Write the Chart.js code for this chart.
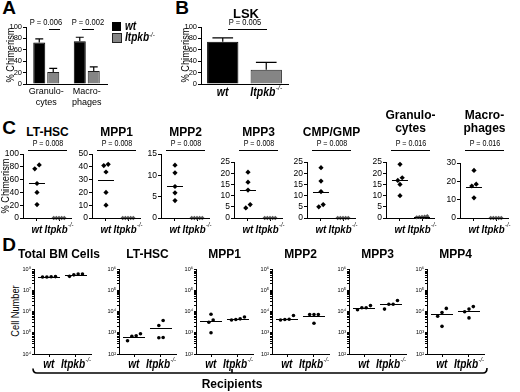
<!DOCTYPE html>
<html>
<head>
<meta charset="utf-8">
<script src="https://cdn.jsdelivr.net/npm/chart.js@4.4.1/dist/chart.umd.min.js"></script>
<style>
  body { margin: 0; background: #fff; }
  #fig { position: relative; width: 520px; height: 392px; overflow: hidden; font-family: 'Liberation Sans', Arial, sans-serif; color: #000; }
  #fig canvas { position: absolute; }
  .t { position: absolute; white-space: nowrap; line-height: 1.1; text-align: center; transform: translate(-50%, -50%); }
  .t sup { font-size: 60%; position: relative; top: -0.45em; vertical-align: 0; font-style: italic; font-weight: normal; }
  .ln { position: absolute; height: 1px; background: #000; }
</style>
</head>
<body>
<div id="fig"></div>
<script>
// ---- data ----
const genotypes = ['wt', 'Itpkb-/-'];

const aCategories = [['Granulo-', 'cytes'], ['Macro-', 'phages']];
const aWt = [73, 75];
const aWtErr = [6, 7];
const aKo = [21, 23];
const aKoErr = [6.5, 7];
const aPValues = ['P = 0.006', 'P = 0.002'];

const bTitle = 'LSK';
const bValues = [74, 25];
const bErr = [7, 13];
const bPValue = 'P = 0.005';

const cTitles = ['LT-HSC', 'MPP1', 'MPP2', 'MPP3', 'CMP/GMP', 'Granulo-<br>cytes', 'Macro-<br>phages'];
const cPValues = ['P = 0.008', 'P = 0.008', 'P = 0.008', 'P = 0.008', 'P = 0.008', 'P = 0.016', 'P = 0.016'];
const cYMax = [100, 50, 15, 25, 25, 25, 30];
const cYStep = [20, 10, 5, 5, 5, 5, 10];
const cWt = [
  [83, 77, 54, 40, 21],
  [42, 41, 36, 20, 10],
  [12.4, 10.6, 7.4, 5.9, 4.1],
  [20.5, 16, 12.5, 6, 4.5],
  [22.5, 16.5, 11.8, 6, 5],
  [24, 18, 16.8, 15, 10],
  [26, 18.5, 17.5, 11]
];
const cKo = [
  [0, 0, 0, 0, 0],
  [0, 0, 0, 0, 0],
  [0, 0, 0, 0, 0],
  [0, 0, 0, 0, 0],
  [0, 0, 0, 0, 0],
  [0.8, 0.5, 0.3, 0.6, 0.4],
  [0, 0, 0, 0, 0]
];
const cWtMean = [55, 30, 7.6, 12.5, 11.6, 16.8, 17.2];
const cKoMean = [0, 0, 0, 0, 0, 0.5, 0];

const dTitles = ['Total BM Cells', 'LT-HSC', 'MPP1', 'MPP2', 'MPP3', 'MPP4'];
const dYMin = [1e4, 1e2, 1e2, 1e2, 1e2, 1e2];
const dYMax = [1e8, 1e6, 1e6, 1e6, 1e6, 1e6];
const dWt = [
  [4.2e7, 4.3e7, 4.2e7, 4.4e7],
  [680, 720, 420, 900],
  [7400, 4000, 3100, 1000],
  [6500, 4200, 4000, 4300],
  [15000, 19000, 12000, 15000],
  [9000, 14000, 6000, 2000]
];
const dKo = [
  [5.8e7, 4.5e7, 5.3e7, 5.8e7],
  [3800, 2200, 580, 600],
  [4500, 4000, 4200, 5500],
  [7200, 7200, 7200, 2800],
  [22000, 22000, 33000, 13000],
  [13000, 9800, 17000, 5000]
];
const dWtMean = [4.3e7, 650, 3700, 4400, 15000, 7500];
const dKoMean = [5.3e7, 1750, 4400, 6300, 22000, 11000];

// ---- layout ----
const FONT = "'Liberation Sans', Arial, sans-serif";
const cAxisX = [23, 92, 161, 234, 307, 386, 460];
const cTop = [154, 154, 154, 162, 162, 162, 163];
const cBottom = 218;
const dAxisX = [34, 119, 196, 272, 349, 427];
const dTop = 269, dBottom = 354;
const SQ = 0.84; // the figure's lettering is horizontally condensed

Chart.defaults.font.family = FONT;
Chart.defaults.color = '#000';
Chart.defaults.animation = false;

const fig = document.getElementById('fig');
const ko = '<i>Itpkb</i><sup>-/-</sup>';
const SQUEEZE = 'scaleX(' + SQ + ')';

function txt(html, x, y, size, weight, extra) {
  const d = document.createElement('div');
  d.className = 't';
  d.innerHTML = html;
  d.style.left = x + 'px';
  d.style.top = y + 'px';
  d.style.fontSize = size + 'px';
  if (weight) d.style.fontWeight = weight;
  if (extra) Object.assign(d.style, extra);
  fig.appendChild(d);
  return d;
}

function vtxt(str, x, y, size) {
  return txt(str, x, y, size, null, { transform: 'translate(-50%,-50%) rotate(-90deg) ' + SQUEEZE });
}

function hline(x0, x1, y) {
  const d = document.createElement('div');
  d.className = 'ln';
  d.style.left = x0 + 'px';
  d.style.top = y + 'px';
  d.style.width = (x1 - x0) + 'px';
  fig.appendChild(d);
}

function frame(x0, y0, x1, y1, yw, xh) {
  const padTop = 6, padRight = 4;
  const left = x0 - yw, top = y0 - padTop;
  const width = x1 + padRight - left, height = y1 + xh - top;
  const c = document.createElement('canvas');
  c.width = width;
  c.height = height;
  c.style.left = left + 'px';
  c.style.top = top + 'px';
  c.style.width = width + 'px';
  c.style.height = height + 'px';
  fig.appendChild(c);
  return { canvas: c, padding: { top: padTop, right: padRight, left: 0, bottom: 0 } };
}

// ---- plugins ----
const errorBars = {
  id: 'errorBars',
  afterDatasetsDraw(chart) {
    const ctx = chart.ctx, ys = chart.scales.y;
    chart.data.datasets.forEach((ds, di) => {
      if (!ds.errors) return;
      chart.getDatasetMeta(di).data.forEach((bar, i) => {
        const top = ys.getPixelForValue(ds.data[i] + ds.errors[i]);
        const hw = bar.width * 0.33;
        ctx.save();
        ctx.strokeStyle = '#000';
        ctx.lineWidth = 1.2;
        ctx.beginPath();
        ctx.moveTo(bar.x, bar.y);
        ctx.lineTo(bar.x, top);
        ctx.moveTo(bar.x - hw, top);
        ctx.lineTo(bar.x + hw, top);
        ctx.stroke();
        ctx.restore();
      });
    });
  }
};

const meanLines = {
  id: 'meanLines',
  afterDatasetsDraw(chart, args, opts) {
    if (!opts.means) return;
    const ctx = chart.ctx, xs = chart.scales.x, ys = chart.scales.y;
    opts.means.forEach((m, i) => {
      const px = xs.getPixelForTick(i), py = Math.round(ys.getPixelForValue(m)) + 0.5;
      ctx.save();
      ctx.strokeStyle = '#000';
      ctx.lineWidth = 1;
      ctx.beginPath();
      ctx.moveTo(px - opts.half, py);
      ctx.lineTo(px + opts.half, py);
      ctx.stroke();
      ctx.restore();
    });
  }
};

// genotype names under the x axis: bold italic, with a small "-/-" raised
const genoLabels = {
  id: 'genoLabels',
  afterDraw(chart, args, opts) {
    if (!opts.labels) return;
    const ctx = chart.ctx, xs = chart.scales.x;
    const y = chart.chartArea.bottom + opts.dy;
    const size = opts.size;
    const main = `italic bold ${size}px ${FONT}`;
    const small = `italic ${Math.round(size * 0.6)}px ${FONT}`;
    ctx.save();
    ctx.fillStyle = '#000';
    ctx.textBaseline = 'middle';
    ctx.textAlign = 'left';
    opts.labels.forEach((lab, i) => {
      const m = lab.match(/^(.*?)(-\/-)?$/);
      ctx.font = main;
      const wb = ctx.measureText(m[1]).width;
      ctx.font = small;
      const ws = m[2] ? ctx.measureText(m[2]).width : 0;
      const x0 = xs.getPixelForTick(i) - (wb + ws + 0.5) * SQ / 2;
      ctx.save();
      ctx.translate(x0, y);
      ctx.scale(SQ, 1);
      ctx.font = main;
      ctx.fillText(m[1], 0, 0);
      if (m[2]) {
        ctx.font = small;
        ctx.fillText(m[2], wb + 0.5, -size * 0.38);
      }
      ctx.restore();
    });
    ctx.restore();
  }
};

Chart.register(errorBars, meanLines, genoLabels);

// ---- helpers ----
function axisStyle(tickLength, drawTicks) {
  return {
    border: { color: '#000', width: 1 },
    grid: { drawOnChartArea: false, drawTicks: drawTicks, tickLength: tickLength, tickColor: '#000', tickWidth: 1 }
  };
}

function tickFont(size) {
  return { family: FONT, size: Math.round(size * SQ * 2) / 2 };
}

// spread points that sit close together, like a column scatter
function spread(values, toUnit, gap, step) {
  const u = values.map(toUnit);
  const order = u.map((v, i) => i).sort((a, b) => u[a] - u[b]);
  const offsets = new Array(values.length).fill(0);
  let cluster = [order[0]];
  const flush = () => cluster.forEach((idx, k) => { offsets[idx] = (k - (cluster.length - 1) / 2) * step; });
  for (let k = 1; k < order.length; k++) {
    if (u[order[k]] - u[order[k - 1]] < gap) {
      cluster.push(order[k]);
    } else {
      flush();
      cluster = [order[k]];
    }
  }
  flush();
  return offsets;
}

function points(values, group, offsets) {
  return values.map((v, k) => ({ x: group + offsets[k], y: v }));
}

const SUP = '⁰¹²³⁴⁵⁶⁷⁸⁹';
function decadeTicks(min, max) {
  const ticks = [];
  for (let e = Math.round(Math.log10(min)); e < Math.round(Math.log10(max)); e++) {
    for (let s = 1; s <= 9; s++) ticks.push({ value: s * Math.pow(10, e) });
  }
  ticks.push({ value: max });
  return ticks;
}

// ---- panel letters ----
txt('A', 9, 8, 19, 'bold');
txt('B', 182, 8, 19, 'bold');
txt('C', 9, 128, 19, 'bold');
txt('D', 9, 245, 19, 'bold');

// ---- panel A ----
(() => {
  const f = frame(26, 27, 107, 84, 22, 26);
  new Chart(f.canvas, {
    type: 'bar',
    data: {
      labels: aCategories,
      datasets: [
        { data: aWt, errors: aWtErr, backgroundColor: '#000', borderColor: '#000', borderWidth: 1, categoryPercentage: 0.69, barPercentage: 0.86 },
        { data: aKo, errors: aKoErr, backgroundColor: '#858585', borderColor: '#222', borderWidth: 1, categoryPercentage: 0.69, barPercentage: 0.86 }
      ]
    },
    options: {
      responsive: false,
      layout: { padding: f.padding, autoPadding: false },
      plugins: { legend: { display: false }, tooltip: { enabled: false } },
      scales: {
        x: Object.assign(axisStyle(0, false), {
          ticks: { font: tickFont(11), padding: 2, maxRotation: 0, autoSkip: false },
          afterFit: s => { s.height = 26; }
        }),
        y: Object.assign(axisStyle(3, true), {
          min: 0, max: 100,
          ticks: { stepSize: 20, font: tickFont(9), padding: 1, autoSkip: false },
          afterFit: s => { s.width = 22; }
        })
      }
    }
  });
  vtxt('% Chimerism', 9.5, 55, 11);
  txt(aPValues[0], 46, 23, 9, null, { transform: 'translate(-50%,-50%) ' + SQUEEZE });
  txt(aPValues[1], 88, 23, 9, null, { transform: 'translate(-50%,-50%) ' + SQUEEZE });
  hline(49, 60, 29);
  hline(82, 94, 29);
  // legend
  const sq1 = document.createElement('div');
  Object.assign(sq1.style, { position: 'absolute', left: '112px', top: '22px', width: '9px', height: '9px', background: '#000' });
  const sq2 = document.createElement('div');
  Object.assign(sq2.style, { position: 'absolute', left: '112px', top: '33px', width: '8px', height: '8px', background: '#858585', border: '1px solid #222' });
  fig.appendChild(sq1);
  fig.appendChild(sq2);
  txt('<i>wt</i>', 125, 26.5, 12, 'bold', { transform: 'translate(0,-50%) ' + SQUEEZE, transformOrigin: '0 50%' });
  txt(ko, 125, 37.5, 12, 'bold', { transform: 'translate(0,-50%) ' + SQUEEZE, transformOrigin: '0 50%' });
})();

// ---- panel B ----
(() => {
  const f = frame(201, 27, 288, 84, 20, 16);
  new Chart(f.canvas, {
    type: 'bar',
    data: {
      labels: genotypes,
      datasets: [
        { data: bValues, errors: bErr, backgroundColor: ['#000', '#858585'], borderColor: ['#000', '#222'], borderWidth: 1, categoryPercentage: 1, barPercentage: 0.72 }
      ]
    },
    options: {
      responsive: false,
      layout: { padding: f.padding, autoPadding: false },
      plugins: {
        legend: { display: false }, tooltip: { enabled: false },
        genoLabels: { labels: genotypes, dy: 8.5, size: 12.5 }
      },
      scales: {
        x: Object.assign(axisStyle(0, false), {
          ticks: { callback: () => '', autoSkip: false },
          afterFit: s => { s.height = 16; }
        }),
        y: Object.assign(axisStyle(3, true), {
          min: 0, max: 100,
          ticks: { stepSize: 20, font: tickFont(9), padding: 1, autoSkip: false },
          afterFit: s => { s.width = 20; }
        })
      }
    }
  });
  vtxt('% Chimerism', 185, 55, 11);
  txt(bTitle, 246, 14, 13, 'bold');
  txt(bPValue, 245, 23, 9, null, { transform: 'translate(-50%,-50%) ' + SQUEEZE });
  hline(228, 267, 29);
})();

// ---- panel C ----
cTitles.forEach((title, i) => {
  const ax = cAxisX[i];
  const f = frame(ax, cTop[i], ax + 48, cBottom, Math.min(22, ax), 18);
  const toUnit = v => v / cYMax[i];
  new Chart(f.canvas, {
    type: 'scatter',
    data: {
      datasets: [
        { data: points(cWt[i], 1, spread(cWt[i], toUnit, 0.07, 0.2)), pointStyle: 'rectRot', pointRadius: 2.6, backgroundColor: '#000', borderWidth: 0, clip: false },
        { data: points(cKo[i], 2, spread(cKo[i], toUnit, 0.07, 0.12)), pointStyle: 'rectRot', pointRadius: 2.2, backgroundColor: '#555', borderWidth: 0, clip: false }
      ]
    },
    options: {
      responsive: false,
      layout: { padding: f.padding, autoPadding: false },
      plugins: {
        legend: { display: false }, tooltip: { enabled: false },
        meanLines: { means: [cWtMean[i], cKoMean[i]], half: 8 },
        genoLabels: { labels: genotypes, dy: 11.5, size: 11.5 }
      },
      scales: {
        x: Object.assign(axisStyle(3, true), {
          type: 'linear', min: 0.364, max: 2.545,
          ticks: { callback: () => '', autoSkip: false },
          afterBuildTicks: s => { s.ticks = [{ value: 1 }, { value: 2 }]; },
          afterFit: s => { s.height = 18; }
        }),
        y: Object.assign(axisStyle(3, true), {
          min: 0, max: cYMax[i],
          ticks: { stepSize: cYStep[i], font: tickFont(10), padding: 1, autoSkip: false },
          afterFit: s => { s.width = Math.min(22, ax); }
        })
      }
    }
  });
  const two = title.indexOf('<br>') >= 0;
  txt(title, ax + 24.5, two ? 121.5 : 132, 12, 'bold', { lineHeight: '13px' });
  txt(cPValues[i], ax + 24.5, 144, 8.5, null, { transform: 'translate(-50%,-50%) ' + SQUEEZE });
  hline(ax + 5, ax + 44, 150);
});
vtxt('% Chimerism', 5, 186, 11);

// ---- panel D ----
dTitles.forEach((title, i) => {
  const ax = dAxisX[i];
  const f = frame(ax, dTop, ax + 57, dBottom, 13, 18);
  const lmin = Math.log10(dYMin[i]), span = Math.log10(dYMax[i]) - lmin;
  const toUnit = v => (Math.log10(v) - lmin) / span;
  new Chart(f.canvas, {
    type: 'scatter',
    data: {
      datasets: [
        { data: points(dWt[i], 1, spread(dWt[i], toUnit, 0.06, 0.16)), pointStyle: 'circle', pointRadius: 1.8, backgroundColor: '#000', borderWidth: 0, clip: false },
        { data: points(dKo[i], 2, spread(dKo[i], toUnit, 0.06, 0.16)), pointStyle: 'circle', pointRadius: 1.8, backgroundColor: '#000', borderWidth: 0, clip: false }
      ]
    },
    options: {
      responsive: false,
      layout: { padding: f.padding, autoPadding: false },
      plugins: {
        legend: { display: false }, tooltip: { enabled: false },
        meanLines: { means: [dWtMean[i], dKoMean[i]], half: 11 },
        genoLabels: { labels: genotypes, dy: 11, size: 12 }
      },
      scales: {
        x: Object.assign(axisStyle(3, true), {
          type: 'linear', min: 0.444, max: 2.556,
          ticks: { callback: () => '', autoSkip: false },
          afterBuildTicks: s => { s.ticks = [{ value: 1 }, { value: 2 }]; },
          afterFit: s => { s.height = 18; }
        }),
        y: Object.assign(axisStyle(2, true), {
          type: 'logarithmic', min: dYMin[i], max: dYMax[i],
          afterBuildTicks: s => { s.ticks = decadeTicks(dYMin[i], dYMax[i]); },
          ticks: {
            autoSkip: false, font: { size: 5.5 }, padding: 1,
            callback: v => {
              const e = Math.log10(v);
              return Math.abs(e - Math.round(e)) < 1e-9 ? '10' + SUP[Math.round(e)] : '';
            }
          },
          afterFit: s => { s.width = 13; }
        })
      }
    }
  });
  txt(title, i === 0 ? 59 : ax + 28.5, 255, 12, 'bold');
});
vtxt('Cell Number', 15, 311, 11);

// ---- recipients bracket ----
const svgNS = 'http://www.w3.org/2000/svg';
const svg = document.createElementNS(svgNS, 'svg');
svg.setAttribute('width', '520');
svg.setAttribute('height', '392');
svg.style.position = 'absolute';
svg.style.left = '0';
svg.style.top = '0';
const path = document.createElementNS(svgNS, 'path');
path.setAttribute('d', 'M33,368.5 Q33,373 37,373 L483,373 Q487,373 487,368 M232,373 L232,369');
path.setAttribute('fill', 'none');
path.setAttribute('stroke', '#000');
path.setAttribute('stroke-width', '1.6');
svg.appendChild(path);
fig.appendChild(svg);
txt('Recipients', 232, 385, 12, 'bold');
</script>
</body>
</html>
